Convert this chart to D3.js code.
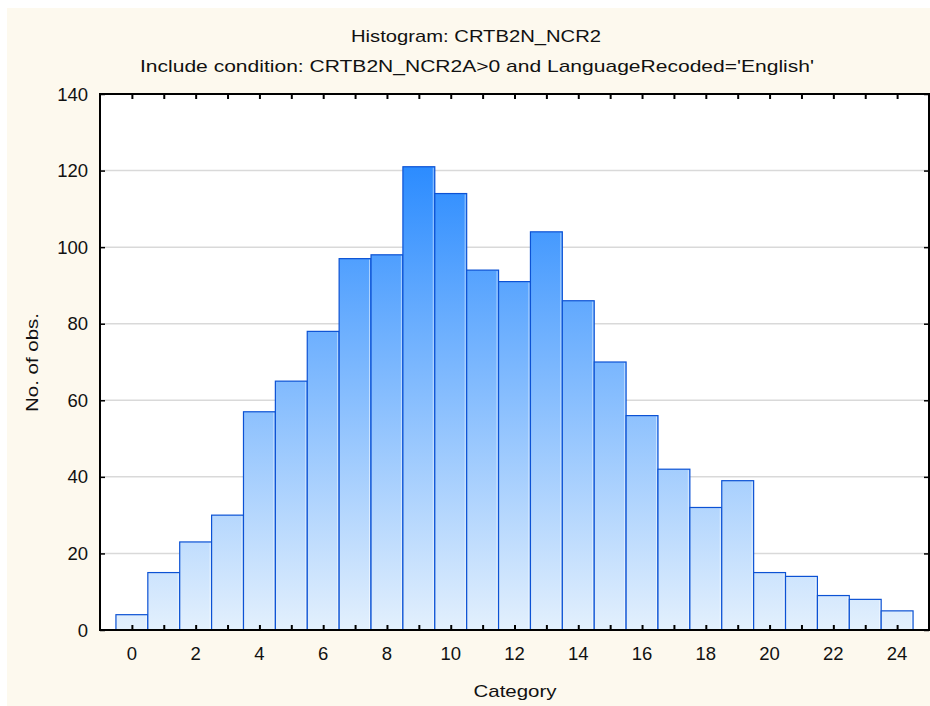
<!DOCTYPE html>
<html>
<head>
<meta charset="utf-8">
<script src="https://cdn.jsdelivr.net/npm/d3@7"></script>
<style>
  body { margin: 0; background: #fff; overflow: hidden; }
  svg { display: block; }
  text { font-family: "Liberation Sans", Arial, sans-serif; fill: #111; }
</style>
</head>
<body>
<script>
// histogram data
var categories = d3.range(0, 25)
var counts = [4, 15, 23, 30, 57, 65, 78, 97, 98, 121, 114, 94, 91, 104, 86, 70, 56, 42, 32, 39, 15, 14, 9, 8, 5]
var xTicks = [0, 2, 4, 6, 8, 10, 12, 14, 16, 18, 20, 22, 24]
var yTicks = [0, 20, 40, 60, 80, 100, 120, 140]

var width = 930
var height = 706
var margin = { top: 94, bottom: 76, left: 100, right: 1 }

var svg = d3.select("body").append("svg")
    .attr("width", width)
    .attr("height", height)

// cream panel
svg.append("rect")
    .attr("x", 7).attr("y", 8)
    .attr("width", width - 7).attr("height", height - 8)
    .attr("fill", "#fdf9ee")

var x = d3.scaleLinear().domain([-1, 25]).range([margin.left, width - margin.right])
var y = d3.scaleLinear().domain([0, 140]).range([height - margin.bottom, margin.top])

// plot area
svg.append("rect")
    .attr("x", x(-1)).attr("y", y(140))
    .attr("width", x(25) - x(-1)).attr("height", y(0) - y(140))
    .attr("fill", "#fff")

// gradient across the whole plot height
var grad = svg.append("defs").append("linearGradient")
    .attr("id", "barFill")
    .attr("gradientUnits", "userSpaceOnUse")
    .attr("x1", 0).attr("x2", 0)
    .attr("y1", y(140)).attr("y2", y(0))
grad.append("stop").attr("offset", "0%").attr("stop-color", "#0f7cff")
grad.append("stop").attr("offset", "100%").attr("stop-color", "#e3f0fd")

// grid lines
svg.append("g").selectAll("line")
    .data(yTicks.filter(function (d) { return d > 0 && d < 140 }))
    .join("line")
    .attr("x1", x(-1)).attr("x2", x(25))
    .attr("y1", function (d) { return y(d) }).attr("y2", function (d) { return y(d) })
    .attr("stroke", "#d9d9d9").attr("stroke-width", 1.5)

// bars
var bars = svg.append("g")
bars.selectAll("rect")
    .data(categories)
    .join("rect")
    .attr("x", function (d) { return x(d - 0.5) })
    .attr("y", function (d, i) { return y(counts[i]) })
    .attr("width", x(0.5) - x(-0.5))
    .attr("height", function (d, i) { return y(0) - y(counts[i]) })
    .attr("fill", "url(#barFill)")
    .attr("stroke", "#0c52d4")
    .attr("stroke-width", 1.2)

// light edge on the right side of each bar
bars.selectAll("line")
    .data(categories)
    .join("line")
    .attr("x1", function (d) { return x(d + 0.5) - 1.5 })
    .attr("x2", function (d) { return x(d + 0.5) - 1.5 })
    .attr("y1", function (d, i) { return y(counts[i]) + 1 })
    .attr("y2", y(0))
    .attr("stroke", "#ffffff").attr("stroke-opacity", 0.5).attr("stroke-width", 1)

// axes with inner ticks
svg.append("g")
    .attr("transform", "translate(0," + y(0) + ")")
    .call(d3.axisTop(x).tickValues(categories).tickSize(5).tickFormat(""))
    .call(function (g) { g.select(".domain").remove() })
    .selectAll("line").attr("stroke", "#000").attr("stroke-width", 2)

svg.append("g")
    .attr("transform", "translate(0," + y(140) + ")")
    .call(d3.axisBottom(x).tickValues(categories).tickSize(5).tickFormat(""))
    .call(function (g) { g.select(".domain").remove() })
    .selectAll("line").attr("stroke", "#000").attr("stroke-width", 2)

svg.append("g")
    .attr("transform", "translate(" + x(-1) + ",0)")
    .call(d3.axisRight(y).tickValues(yTicks).tickSize(5).tickFormat(""))
    .call(function (g) { g.select(".domain").remove() })
    .selectAll("line").attr("stroke", "#000").attr("stroke-width", 1.5)

svg.append("g")
    .attr("transform", "translate(" + x(25) + ",0)")
    .call(d3.axisLeft(y).tickValues(yTicks).tickSize(5).tickFormat(""))
    .call(function (g) { g.select(".domain").remove() })
    .selectAll("line").attr("stroke", "#000").attr("stroke-width", 1.5)

// frame
svg.append("rect")
    .attr("x", x(-1)).attr("y", y(140))
    .attr("width", x(25) - x(-1)).attr("height", y(0) - y(140))
    .attr("fill", "none").attr("stroke", "#000").attr("stroke-width", 2)

// tick labels
svg.append("g").selectAll("text")
    .data(xTicks)
    .join("text")
    .attr("x", function (d) { return x(d) })
    .attr("y", y(0) + 29.5)
    .attr("text-anchor", "middle")
    .attr("font-size", 18.5)
    .text(function (d) { return d })

svg.append("g").selectAll("text")
    .data(yTicks)
    .join("text")
    .attr("x", x(-1) - 12)
    .attr("y", function (d) { return y(d) + 6.5 })
    .attr("text-anchor", "end")
    .attr("font-size", 18.5)
    .text(function (d) { return d })

// titles, stretched to the widths seen in the picture
function label(tx, ty, len, txt) {
    return svg.append("text")
        .attr("x", tx).attr("y", ty)
        .attr("text-anchor", "middle")
        .attr("font-size", 17)
        .attr("textLength", len)
        .attr("lengthAdjust", "spacingAndGlyphs")
        .text(txt)
}
label(476, 42, 250, "Histogram: CRTB2N_NCR2")
label(477, 72, 674, "Include condition: CRTB2N_NCR2A>0 and LanguageRecoded='English'")
label(515, 697, 83, "Category")
label(0, 0, 99, "No. of obs.")
    .attr("transform", "translate(38,362.5) rotate(-90)")
</script>
</body>
</html>
